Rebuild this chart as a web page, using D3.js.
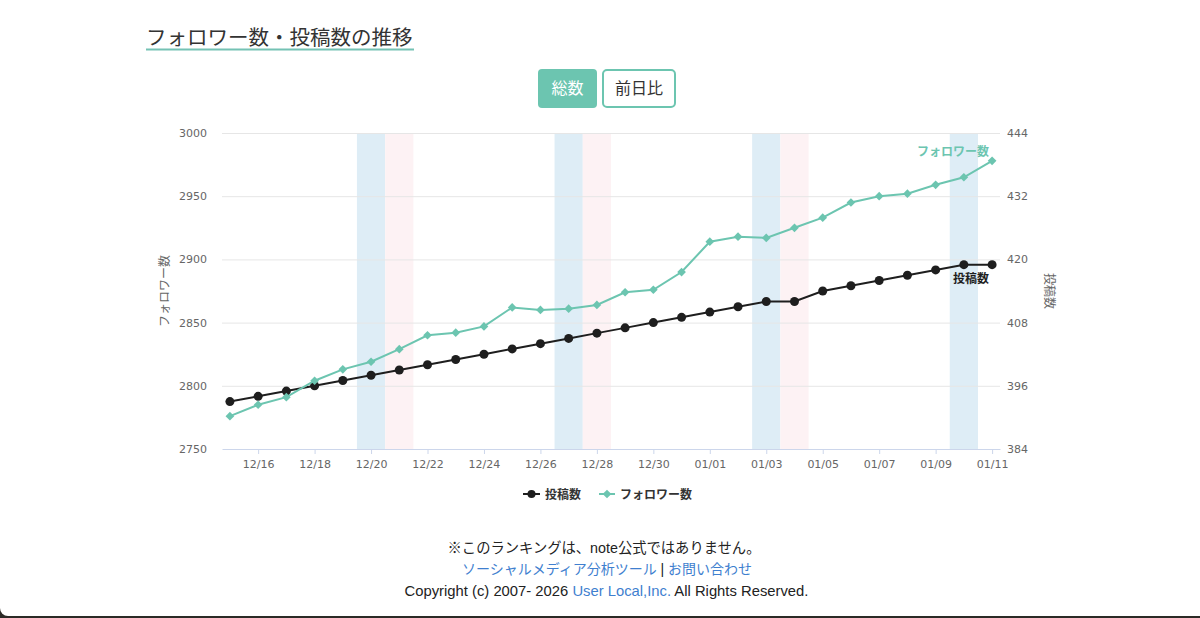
<!DOCTYPE html>
<html>
<head>
<meta charset="utf-8">
<script src="https://cdn.jsdelivr.net/npm/d3@7"></script>
<style>
   html, body { margin: 0; padding: 0; background: #2b2a26; }
   svg { display: block; }
</style>
</head>
<body>
<div id="app"></div>
<script>
// data
const dates = ["12/15","12/16","12/17","12/18","12/19","12/20","12/21","12/22","12/23","12/24",
   "12/25","12/26","12/27","12/28","12/29","12/30","12/31","01/01","01/02","01/03",
   "01/04","01/05","01/06","01/07","01/08","01/09","01/10","01/11"]
const followers = [2776,2785,2791,2804,2813,2819,2829,2840,2842,2847,
   2862,2860,2861,2864,2874,2876,2890,2914,2918,2917,
   2925,2933,2945,2950,2952,2959,2965,2978]
const posts = [393,394,395,396,397,398,399,400,401,402,
   403,404,405,406,407,408,409,410,411,412,
   412,414,415,416,417,418,419,419]
const saturdays = ["12/20","12/27","01/03","01/10"]
const sundays = ["12/21","12/28","01/04"]
const leftTicks = [2750,2800,2850,2900,2950,3000]
const rightTicks = [384,396,408,420,432,444]
const xTicks = dates.filter((d,i)=> i % 2 === 1)

const W = 1200, H = 618
const plotL = 222, plotR = 1000, plotT = 133, plotB = 449
const teal = "#6cc5b0"
const dark = "#1e1e1e"
const jp = "'Noto Sans CJK JP', sans-serif"
const num = "'DejaVu Sans', Verdana, sans-serif"

const svg = d3.select("#app").append("svg")
   .attr("width", W).attr("height", H)

// white page with a rounded bottom-left corner
svg.append("path")
   .attr("d", `M0,0H${W}V616H8A8,8 0 0 1 0,608Z`)
   .attr("fill", "#fff")

// title
svg.append("text")
   .attr("x", 146).attr("y", 45)
   .attr("font-family", jp).attr("font-size", 20.5)
   .attr("fill", "#333")
   .text("フォロワー数・投稿数の推移")
svg.append("rect")
   .attr("x", 146).attr("y", 48.5).attr("width", 268).attr("height", 2)
   .attr("fill", "#74c2b4")

// buttons
svg.append("rect")
   .attr("x", 538).attr("y", 69).attr("width", 59).attr("height", 39).attr("rx", 4)
   .attr("fill", teal)
svg.append("text")
   .attr("x", 567.5).attr("y", 94).attr("text-anchor", "middle")
   .attr("font-family", jp).attr("font-size", 16).attr("fill", "#fff")
   .text("総数")
svg.append("rect")
   .attr("x", 603).attr("y", 70).attr("width", 72).attr("height", 37).attr("rx", 4)
   .attr("fill", "#fff").attr("stroke", teal).attr("stroke-width", 2)
svg.append("text")
   .attr("x", 639).attr("y", 94).attr("text-anchor", "middle")
   .attr("font-family", jp).attr("font-size", 16).attr("fill", "#333")
   .text("前日比")

// scales
const x = d3.scalePoint().domain(dates).range([plotL, plotR]).padding(0.28)
const step = x.step()
const yL = d3.scaleLinear().domain([2750, 3000]).range([plotB, plotT])
const yR = d3.scaleLinear().domain([384, 444]).range([plotB, plotT])

// weekend bands
const bands = svg.append("g")
bands.selectAll(".sat").data(saturdays).join("rect")
   .attr("x", d => x(d) - step/2).attr("y", plotT)
   .attr("width", step).attr("height", plotB - plotT)
   .attr("fill", "#deedf6")
bands.selectAll(".sun").data(sundays).join("rect")
   .attr("x", d => x(d) - step/2).attr("y", plotT)
   .attr("width", step).attr("height", plotB - plotT)
   .attr("fill", "#fdf2f4")

// left axis + grid
const gL = svg.append("g")
   .attr("transform", `translate(${plotL},0)`)
   .call(d3.axisLeft(yL).tickValues(leftTicks).tickFormat(d3.format("d"))
      .tickSize(-(plotR-plotL)).tickPadding(15))
gL.select(".domain").remove()
gL.selectAll("line").attr("stroke", d => d === 2750 ? "none" : "#e6e6e6")
gL.selectAll("text").attr("font-family", num).attr("font-size", 11).attr("fill", "#666")

// right axis
const gR = svg.append("g")
   .attr("transform", `translate(${plotR},0)`)
   .call(d3.axisRight(yR).tickValues(rightTicks).tickSize(0).tickPadding(7))
gR.select(".domain").remove()
gR.selectAll("text").attr("font-family", num).attr("font-size", 11).attr("fill", "#666")

// bottom axis
const gX = svg.append("g")
   .attr("transform", `translate(0,${plotB})`)
   .call(d3.axisBottom(x).tickValues(xTicks).tickSize(5).tickSizeOuter(0).tickPadding(6))
gX.select(".domain").attr("stroke", "#ccd6eb")
gX.selectAll("line").attr("stroke", "#ccd6eb")
gX.selectAll("text").attr("font-family", num).attr("font-size", 11).attr("fill", "#666")

// axis titles
svg.append("text")
   .attr("transform", "translate(169,291) rotate(-90)")
   .attr("text-anchor", "middle")
   .attr("font-family", jp).attr("font-size", 12).attr("fill", "#666")
   .text("フォロワー数")
svg.append("text")
   .attr("transform", "translate(1045,291) rotate(90)")
   .attr("text-anchor", "middle")
   .attr("font-family", jp).attr("font-size", 12).attr("fill", "#666")
   .text("投稿数")

// posts series
const postLine = d3.line().x((d,i) => x(dates[i])).y(d => yR(d))
svg.append("path")
   .attr("d", postLine(posts))
   .attr("fill", "none").attr("stroke", dark).attr("stroke-width", 2)
svg.append("g").selectAll("circle").data(posts).join("circle")
   .attr("cx", (d,i) => x(dates[i])).attr("cy", d => yR(d))
   .attr("r", 4.5).attr("fill", dark)

// follower series
const folLine = d3.line().x((d,i) => x(dates[i])).y(d => yL(d))
svg.append("path")
   .attr("d", folLine(followers))
   .attr("fill", "none").attr("stroke", teal).attr("stroke-width", 2)
const diamond = d3.symbol().type(d3.symbolDiamond2).size(48)
svg.append("g").selectAll("path").data(followers).join("path")
   .attr("d", diamond)
   .attr("transform", (d,i) => `translate(${x(dates[i])},${yL(d)})`)
   .attr("fill", teal)

// end labels
const last = dates.length - 1
svg.append("text")
   .attr("x", x(dates[last]) - 3).attr("y", yL(followers[last]) - 5)
   .attr("text-anchor", "end")
   .attr("font-family", jp).attr("font-size", 12).attr("font-weight", "bold")
   .attr("fill", teal)
   .text("フォロワー数")
svg.append("text")
   .attr("x", x(dates[last]) - 3).attr("y", yR(posts[last]) + 18)
   .attr("text-anchor", "end")
   .attr("font-family", jp).attr("font-size", 12).attr("font-weight", "bold")
   .attr("fill", dark)
   .text("投稿数")

// legend
const legend = svg.append("g").attr("transform", "translate(0,494)")
legend.append("line").attr("x1", 523).attr("x2", 540).attr("stroke", dark).attr("stroke-width", 2)
legend.append("circle").attr("cx", 531.5).attr("r", 4).attr("fill", dark)
legend.append("text").attr("x", 545).attr("y", 4.5)
   .attr("font-family", jp).attr("font-size", 12).attr("font-weight", "bold").attr("fill", "#333")
   .text("投稿数")
legend.append("line").attr("x1", 599).attr("x2", 615).attr("stroke", teal).attr("stroke-width", 2)
legend.append("path").attr("d", diamond).attr("transform", "translate(607,0)").attr("fill", teal)
legend.append("text").attr("x", 620).attr("y", 4.5)
   .attr("font-family", jp).attr("font-size", 12).attr("font-weight", "bold").attr("fill", "#333")
   .text("フォロワー数")

// footer
const foot = "'Liberation Sans', Arial, 'Noto Sans CJK JP', sans-serif"
const link = "#3f7fcf"
svg.append("text")
   .attr("x", 604).attr("y", 553).attr("text-anchor", "middle")
   .attr("font-family", foot).attr("font-size", 14.3).attr("fill", "#222")
   .text("※このランキングは、note公式ではありません。")
const f2 = svg.append("text")
   .attr("x", 607).attr("y", 574).attr("text-anchor", "middle")
   .attr("font-family", foot).attr("font-size", 14).attr("fill", "#222")
f2.append("tspan").attr("fill", link).text("ソーシャルメディア分析ツール")
f2.append("tspan").text(" | ")
f2.append("tspan").attr("fill", link).text("お問い合わせ")
const f3 = svg.append("text")
   .attr("x", 606.5).attr("y", 596).attr("text-anchor", "middle")
   .attr("font-family", foot).attr("font-size", 14.8).attr("fill", "#222")
f3.append("tspan").text("Copyright (c) 2007- 2026 ")
f3.append("tspan").attr("fill", link).text("User Local,Inc.")
f3.append("tspan").text(" All Rights Reserved.")
</script>
</body>
</html>
